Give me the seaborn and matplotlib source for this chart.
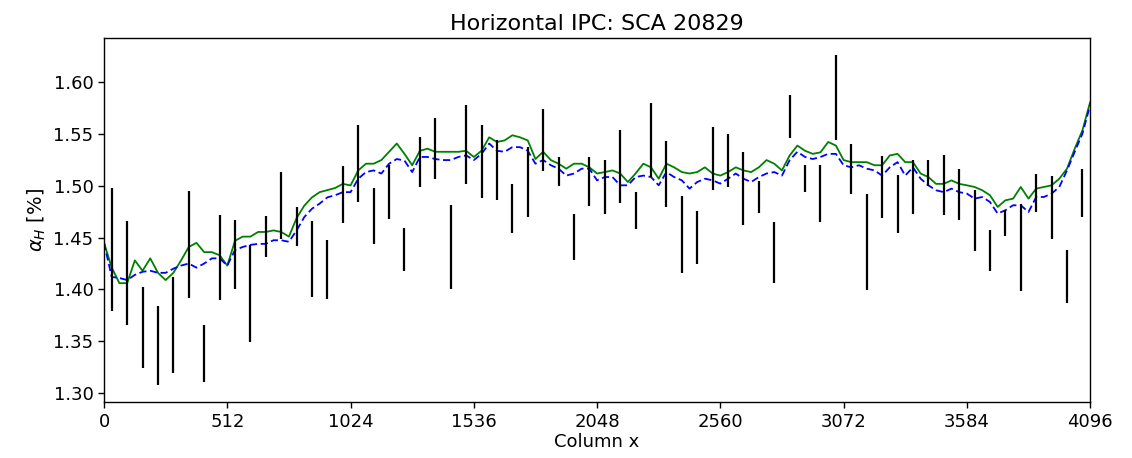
import numpy as np
import pandas as pd
import matplotlib
matplotlib.use("Agg")
import matplotlib.pyplot as plt
import seaborn as sns

# ---- data ----
col_line = list(range(0, 4097, 32))
green_vals = [
    1.445, 1.421, 1.406, 1.406, 1.428, 1.418, 1.430, 1.416, 1.409, 1.416, 1.428, 1.441, 1.445, 1.436, 1.436, 1.433,
    1.423, 1.447, 1.451, 1.451, 1.4555, 1.4555, 1.457, 1.4555, 1.451, 1.469, 1.481, 1.489, 1.494, 1.496, 1.498, 1.502,
    1.5005, 1.515, 1.5215, 1.5215, 1.525, 1.533, 1.541, 1.531, 1.520, 1.534, 1.536, 1.533, 1.533, 1.533, 1.533, 1.534,
    1.528, 1.534, 1.547, 1.5425, 1.544, 1.549, 1.547, 1.544, 1.526, 1.533, 1.525, 1.5215, 1.5167, 1.5215, 1.5215, 1.518,
    1.512, 1.5134, 1.515, 1.512, 1.5038, 1.512, 1.5215, 1.518, 1.507, 1.5215, 1.518, 1.5134, 1.512, 1.5134, 1.518, 1.512,
    1.510, 1.5134, 1.518, 1.515, 1.5134, 1.518, 1.525, 1.5215, 1.515, 1.5295, 1.539, 1.534, 1.531, 1.5325, 1.5425, 1.539,
    1.525, 1.523, 1.523, 1.523, 1.520, 1.520, 1.5295, 1.531, 1.523, 1.523, 1.512, 1.5086, 1.502, 1.502, 1.5054, 1.502,
    1.5006, 1.499, 1.4958, 1.491, 1.4797, 1.4861, 1.4877, 1.499, 1.4877, 1.4974, 1.499, 1.5006, 1.507, 1.5167, 1.536, 1.5537,
    1.581,
]
blue_vals = [
    1.445, 1.412, 1.411, 1.409, 1.414, 1.417, 1.418, 1.416, 1.416, 1.420, 1.423, 1.425, 1.421, 1.425, 1.430, 1.430,
    1.423, 1.438, 1.441, 1.443, 1.444, 1.444, 1.4475, 1.4475, 1.446, 1.457, 1.470, 1.478, 1.483, 1.489, 1.491, 1.494,
    1.494, 1.507, 1.5134, 1.515, 1.512, 1.5215, 1.526, 1.5245, 1.5134, 1.528, 1.528, 1.526, 1.525, 1.525, 1.528, 1.5295,
    1.525, 1.531, 1.541, 1.534, 1.533, 1.5375, 1.5375, 1.534, 1.5215, 1.525, 1.520, 1.5167, 1.510, 1.512, 1.5167, 1.5167,
    1.5054, 1.5086, 1.5086, 1.5006, 1.5006, 1.5086, 1.510, 1.5086, 1.5006, 1.5134, 1.5086, 1.5054, 1.4974, 1.5038, 1.507, 1.5054,
    1.5022, 1.507, 1.512, 1.507, 1.5038, 1.5086, 1.512, 1.5134, 1.510, 1.525, 1.533, 1.528, 1.526, 1.528, 1.531, 1.531,
    1.520, 1.518, 1.520, 1.5167, 1.515, 1.510, 1.518, 1.523, 1.510, 1.518, 1.507, 1.5006, 1.4958, 1.494, 1.4974, 1.494,
    1.4926, 1.4877, 1.4893, 1.4845, 1.4733, 1.4765, 1.4813, 1.4813, 1.4748, 1.4893, 1.4893, 1.4926, 1.499, 1.515, 1.533, 1.5505,
    1.578,
]

col_bar = list(range(32, 4096, 64))
bar_top = [
    1.498, 1.4658, 1.4025, 1.3844, 1.4118, 1.4951, 1.3658, 1.4723, 1.4674, 1.4427, 1.4707, 1.5135, 1.4797, 1.4658, 1.4481, 1.5189,
    1.5585, 1.4983, 1.5199, 1.4591, 1.5472, 1.5659, 1.4813, 1.5781, 1.5585, 1.5440, 1.5022, 1.5376, 1.5740, 1.5279, 1.4726, 1.5279,
    1.5247, 1.5543, 1.4942, 1.5804, 1.5437, 1.4906, 1.4755, 1.5569, 1.5501, 1.5328, 1.5048, 1.4652, 1.5875, 1.5205, 1.5205, 1.6270,
    1.5402, 1.4925, 1.5286, 1.5102, 1.5247, 1.5247, 1.5295, 1.5167, 1.4958, 1.4572, 1.4765, 1.4829, 1.5112, 1.5093, 1.4385, 1.5164,
]
bar_bottom = [
    1.379, 1.3651, 1.3236, 1.3075, 1.3194, 1.3912, 1.3107, 1.3902, 1.3999, 1.3494, 1.4314, 1.4491, 1.4417, 1.3922, 1.3909, 1.4642,
    1.4845, 1.4443, 1.4684, 1.4173, 1.4990, 1.5064, 1.4005, 1.5016, 1.4887, 1.4861, 1.4546, 1.4700, 1.5141, 1.5003, 1.4282, 1.4806,
    1.4729, 1.4835, 1.4581, 1.5086, 1.4797, 1.4160, 1.4247, 1.4958, 1.4990, 1.4620, 1.4742, 1.4066, 1.5463, 1.4938, 1.4652, 1.5440,
    1.4925, 1.3992, 1.4694, 1.4546, 1.4732, 1.5000, 1.4723, 1.4668, 1.4372, 1.4179, 1.4517, 1.3983, 1.4748, 1.4491, 1.3864, 1.4700,
]

x_ticks = [0, 512, 1024, 1536, 2048, 2560, 3072, 3584, 4096]
y_ticks = [1.30, 1.35, 1.40, 1.45, 1.50, 1.55, 1.60]

# ---- plotting ----
sns.set_style("ticks")
plt.rcParams["font.family"] = ["DejaVu Sans"]
plt.rcParams.update({
    "text.color": "black",
    "axes.labelcolor": "black",
    "xtick.color": "black",
    "ytick.color": "black",
    "axes.edgecolor": "black",
})

fig = plt.figure(figsize=(11.32, 4.58), dpi=100)
ax = fig.add_axes([0.0919, 0.122, 0.8711, 0.795])

df_lines = pd.DataFrame({"x": col_line, "green": green_vals, "blue": blue_vals})
sns.lineplot(data=df_lines, x="x", y="green", ax=ax, color="green", linewidth=1.3, zorder=2)
sns.lineplot(data=df_lines, x="x", y="blue", ax=ax, color="blue", linewidth=1.3,
             linestyle=(0, (4, 2)), zorder=2)

top = np.array(bar_top)
bot = np.array(bar_bottom)
center = (top + bot) / 2
half = (top - bot) / 2
ax.errorbar(col_bar, center, yerr=half, fmt="none", ecolor="black", elinewidth=1.6, zorder=3)

ax.set_xlim(0, 4096)
ax.set_ylim(1.291, 1.643)
ax.set_xticks(x_ticks)
ax.set_xticklabels([str(t) for t in x_ticks])
ax.set_yticks(y_ticks)
ax.set_yticklabels([f"{t:.2f}" for t in y_ticks])
ax.tick_params(labelsize=13, direction="out", length=4, width=1, colors="black")
for s in ax.spines.values():
    s.set_visible(True)
    s.set_color("black")
    s.set_linewidth(1)

ax.set_title("Horizontal IPC: SCA 20829", fontsize=16, color="black")
ax.set_xlabel("Column x", fontsize=13, labelpad=2, color="black")
ax.set_ylabel(r"$\alpha_H$ [%]", fontsize=14, color="black")

fig.savefig("out.png", dpi=100)
